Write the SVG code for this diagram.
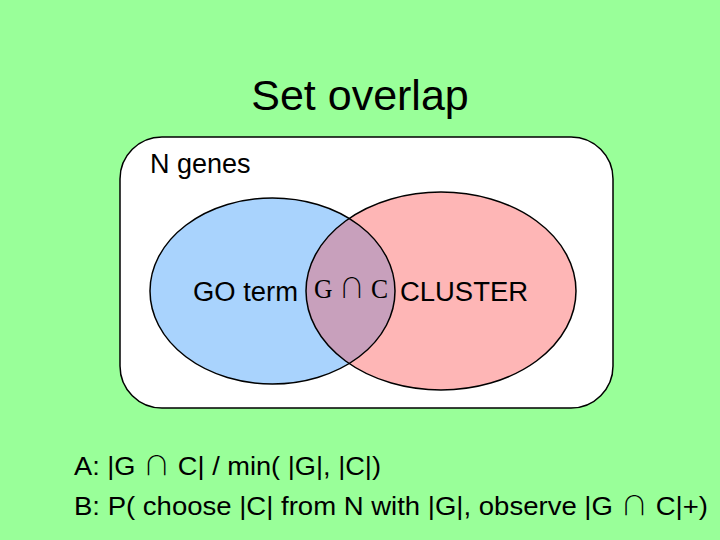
<svg xmlns="http://www.w3.org/2000/svg" width="720" height="540" viewBox="0 0 720 540">
<style>
.t{font-family:"Liberation Sans",Arial,sans-serif;fill:#000}
.s{font-family:"Liberation Serif","Times New Roman",serif;fill:#000}
.cap{font-family:"Noto Sans CJK JP","Noto Sans CJK SC",sans-serif;font-weight:300}
.ol{fill:none;stroke:#000;stroke-width:1.5}
</style>
<defs>
<clipPath id="clipBlue"><ellipse cx="272.5" cy="291" rx="122.5" ry="93"/></clipPath>
</defs>
<rect width="720" height="540" fill="#99ff99"/>
<text class="t" x="360" y="110" font-size="43" text-anchor="middle">Set overlap</text>
<g id="universe">
<rect x="120" y="137" width="493" height="271" rx="42" ry="42" fill="#fff" stroke="#000" stroke-width="1.5"/>
<text class="t" x="150" y="173" font-size="27">N genes</text>
</g>
<g id="goterm">
<ellipse cx="272.5" cy="291" rx="122.5" ry="93" fill="#a9d3fd"/>
</g>
<g id="cluster">
<ellipse cx="441" cy="291" rx="135" ry="99" fill="#feb6b6"/>
</g>
<g id="intersection">
<ellipse cx="441" cy="291" rx="135" ry="99" fill="#c8a0bc" clip-path="url(#clipBlue)"/>
</g>
<g id="outlines">
<ellipse class="ol" cx="272.5" cy="291" rx="122.5" ry="93"/>
<ellipse class="ol" cx="441" cy="291" rx="135" ry="99"/>
</g>
<text class="t" x="193" y="301" font-size="27" textLength="105" lengthAdjust="spacingAndGlyphs">GO term</text>
<text class="s" x="314" y="298" font-size="27" textLength="74" lengthAdjust="spacingAndGlyphs">G <tspan class="cap">∩</tspan> C</text>
<text class="t" x="400" y="301" font-size="27" textLength="128" lengthAdjust="spacingAndGlyphs">CLUSTER</text>
<text class="t" x="74" y="475" font-size="26" textLength="307" lengthAdjust="spacingAndGlyphs">A: |G <tspan class="cap">∩</tspan> C| / min( |G|, |C|)</text>
<text class="t" x="74" y="515" font-size="26" textLength="634" lengthAdjust="spacingAndGlyphs">B: P( choose |C| from N with |G|, observe |G <tspan class="cap">∩</tspan> C|+)</text>
</svg>
